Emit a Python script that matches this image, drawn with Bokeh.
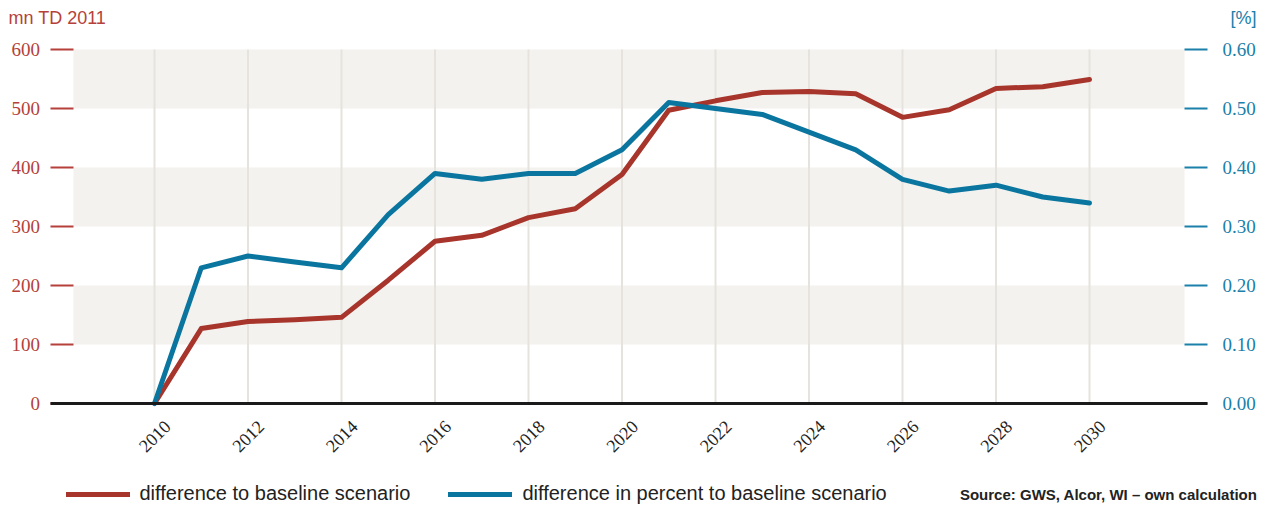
import math
from bokeh.plotting import figure
from bokeh.models import (Range1d, BoxAnnotation, Label, LabelSet,
                          ColumnDataSource, Legend, LegendItem)
from bokeh.embed import file_html
from bokeh.resources import INLINE

# ---------------- data ----------------
years = list(range(2010, 2031))
diff_abs = [0, 127, 139, 142, 146, 209, 275, 285, 315, 330, 388,
            497, 513, 527, 529, 525, 485, 498, 534, 537, 549]
diff_pct = [0.00, 0.23, 0.25, 0.24, 0.23, 0.32, 0.39, 0.38, 0.39, 0.39, 0.43,
            0.51, 0.50, 0.49, 0.46, 0.43, 0.38, 0.36, 0.37, 0.35, 0.34]
year_ticks = list(range(2010, 2031, 2))
year_labels = [str(y) for y in year_ticks]
left_ticks = [0, 100, 200, 300, 400, 500, 600]
left_labels = ["0", "100", "200", "300", "400", "500", "600"]
right_ticks = [0.0, 0.1, 0.2, 0.3, 0.4, 0.5, 0.6]
right_labels = ["0.00", "0.10", "0.20", "0.30", "0.40", "0.50", "0.60"]
bands = [(100, 200), (300, 400), (500, 600)]
series_names = ["difference to baseline scenario",
                "difference in percent to baseline scenario"]
left_unit = "mn TD 2011"
right_unit = "[%]"
source_note = "Source: GWS, Alcor, WI \u2013 own calculation"

# ---------------- style / geometry ----------------
RED = "#a8352b"
BLUE = "#0a76a0"
RED_TXT = "#b5413a"
BLUE_TXT = "#1b80aa"
DARK = "#222222"
AXIS = "#1a1a1a"
BAND = "#f3f2ee"
GRID = "#e6e3de"
FONT = "Liberation Sans"

W, H = 1275, 507
AX_L, AX_R = 50, 1207              # extent of the zero line / tick marks
BAND_L, BAND_R = 73, 1184          # extent of the plot bands
X0_PX, X1_PX = 154.0, 1089.0       # pixel of 2010 and 2030
PX_PER_YEAR = (X1_PX - X0_PX) / 20.0
ZERO_PX, TOP_PX = 403.0, 49.0      # pixel of 0 and 600
PX_PER_UNIT = (ZERO_PX - TOP_PX) / 600.0
PCT_SCALE = 1000.0                 # 0.60 % <-> 600 mn TD


def px2x(px):
    return 2010 + (px - X0_PX) / PX_PER_YEAR


def px2y(py):
    return (ZERO_PX - py) / PX_PER_UNIT


p = figure(width=W, height=H, output_backend="svg", toolbar_location=None,
           x_range=Range1d(px2x(0), px2x(W)), y_range=Range1d(px2y(H), px2y(0)),
           x_axis_location=None, y_axis_location=None, title=None,
           min_border_left=0, min_border_right=0, min_border_top=0,
           min_border_bottom=0)
p.outline_line_color = None
p.background_fill_color = "white"
p.border_fill_color = "white"
p.grid.visible = False
p.extra_y_ranges = {"pct": Range1d(px2y(H) / PCT_SCALE, px2y(0) / PCT_SCALE)}

# horizontal bands
for lo, hi in bands:
    p.add_layout(BoxAnnotation(bottom=lo, top=hi, left=px2x(BAND_L),
                               right=px2x(BAND_R), fill_color=BAND, fill_alpha=1,
                               line_color=None, level="image"))

# vertical grid lines (0 .. 600)
n = len(year_ticks)
p.segment(x0=year_ticks, y0=[left_ticks[0]] * n, x1=year_ticks,
          y1=[left_ticks[-1]] * n, line_color=GRID, line_width=2,
          level="underlay")

# left axis: tick marks + labels
nl = len(left_ticks)
p.segment(x0=[px2x(AX_L)] * nl, y0=left_ticks, x1=[px2x(BAND_L)] * nl,
          y1=left_ticks, line_color=RED_TXT, line_width=2)
p.add_layout(LabelSet(x="x", y="y", text="t",
                      source=ColumnDataSource(dict(x=[px2x(39.5)] * nl,
                                                   y=left_ticks, t=left_labels)),
                      text_align="right", text_baseline="middle",
                      text_color=RED_TXT, text_font=FONT,
                      text_font_size="19px"))

# right axis: tick marks + labels
nr = len(right_ticks)
p.segment(x0=[px2x(BAND_R)] * nr, y0=right_ticks, x1=[px2x(AX_R)] * nr,
          y1=right_ticks, line_color=BLUE_TXT, line_width=2, y_range_name="pct")
p.add_layout(LabelSet(x="x", y="y", text="t", y_range_name="pct",
                      source=ColumnDataSource(dict(x=[px2x(1222)] * nr,
                                                   y=right_ticks, t=right_labels)),
                      text_align="left", text_baseline="middle",
                      text_color=BLUE_TXT, text_font=FONT,
                      text_font_size="19px"))

# series
r1 = p.line(years, diff_abs, line_color=RED, line_width=5,
            line_cap="round", line_join="round")
r2 = p.line(years, diff_pct, y_range_name="pct", line_color=BLUE, line_width=5,
            line_cap="round", line_join="round")

# zero line (x axis)
p.segment(x0=[px2x(AX_L)], y0=[0], x1=[px2x(AX_R)], y1=[0],
          line_color=AXIS, line_width=3)

# year labels
p.add_layout(LabelSet(x="x", y="y", text="t",
                      source=ColumnDataSource(dict(x=year_ticks,
                                                   y=[px2y(435.5)] * n,
                                                   t=year_labels)),
                      angle=math.pi / 4, text_align="center",
                      text_baseline="middle", text_color=DARK,
                      text_font=FONT, text_font_size="18px"))

# unit labels
p.add_layout(Label(x=px2x(8), y=px2y(17), text=left_unit, text_color=RED_TXT,
                   text_font=FONT, text_font_size="18px", text_align="left",
                   text_baseline="middle"))
p.add_layout(Label(x=px2x(1256), y=px2y(17), text=right_unit,
                   text_color=BLUE_TXT, text_font=FONT, text_font_size="18px",
                   text_align="right", text_baseline="middle"))

# legend
legend = Legend(items=[LegendItem(label=series_names[0], renderers=[r1]),
                       LegendItem(label=series_names[1], renderers=[r2])],
                location=(65.5, 2), orientation="horizontal",
                glyph_width=64, glyph_height=20, label_height=20,
                label_standoff=10, spacing=38, padding=0, margin=0,
                border_line_color=None, background_fill_alpha=0,
                label_text_font=FONT, label_text_font_size="20px",
                label_text_color=DARK)
p.add_layout(legend, "center")

# source note
p.add_layout(Label(x=px2x(1257), y=px2y(494), text=source_note, text_color=DARK,
                   text_font=FONT, text_font_style="bold",
                   text_font_size="15px", text_align="right",
                   text_baseline="middle"))

open("out.html", "w").write(file_html(p, INLINE))
